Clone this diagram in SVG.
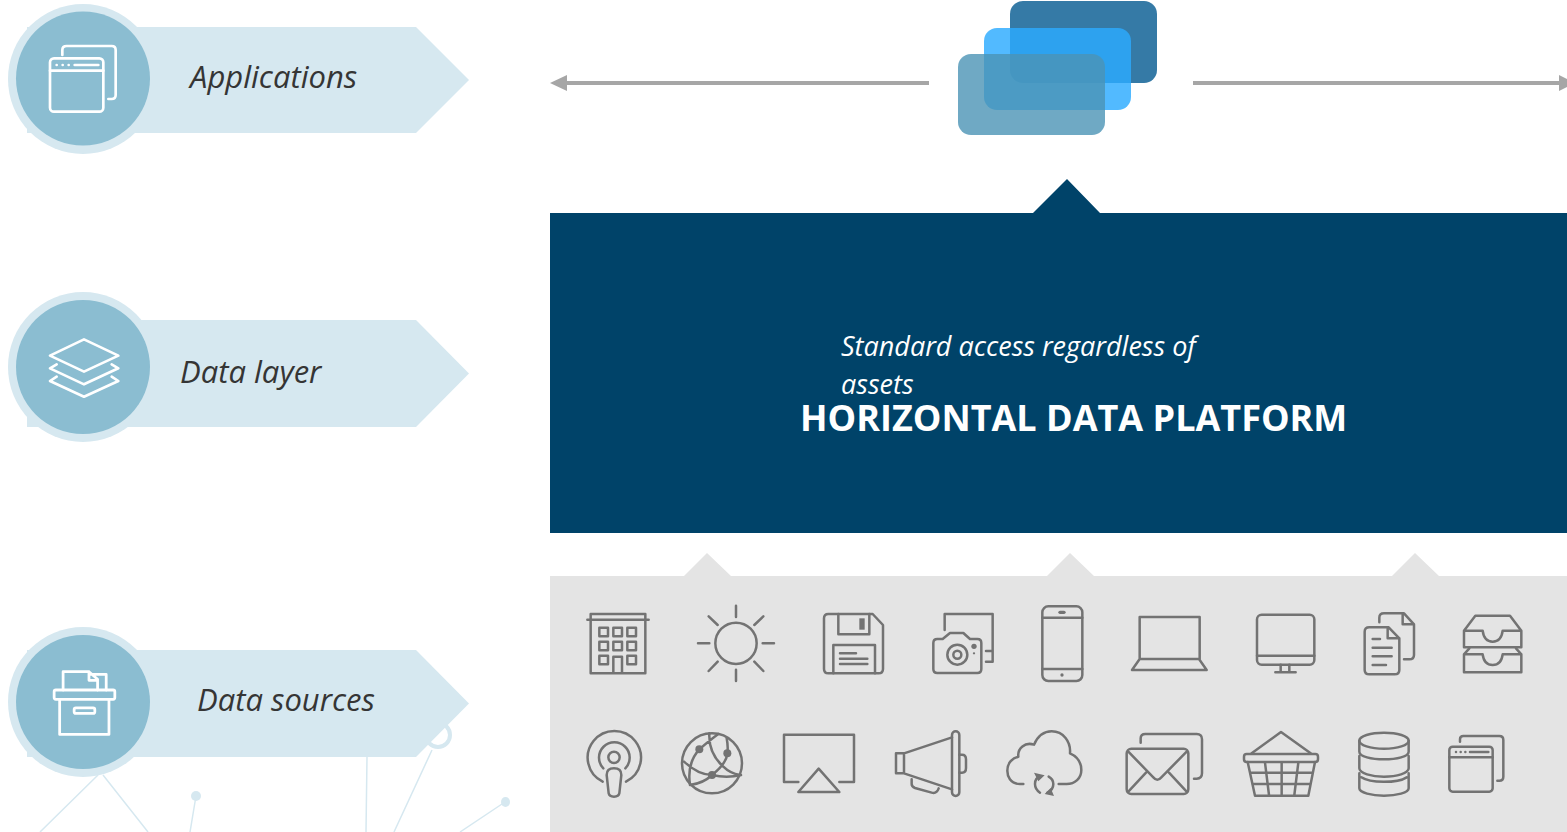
<svg xmlns="http://www.w3.org/2000/svg" width="1567" height="832" viewBox="0 0 1567 832">
<style>
.lab{font-family:"Open Sans","Liberation Sans",sans-serif;font-style:italic;font-size:31px;fill:#353535}
.sub{font-family:"Open Sans","Liberation Sans",sans-serif;font-style:italic;font-size:27px;fill:#fff}
.ttl{font-family:"Open Sans","Liberation Sans",sans-serif;font-weight:700;font-size:36px;fill:#fff}
.arrow{fill:#d6e8f0}
.halo{fill:#d6e8f0}
.disc{fill:#8bbdd1}
.wi{fill:none;stroke:#fff;stroke-width:8;stroke-linejoin:round;stroke-linecap:round}
.ic{fill:none;stroke:#737373;stroke-width:7.5;stroke-linejoin:round;stroke-linecap:round}
.ic .f{fill:#737373;stroke:none}
.bg{fill:none;stroke:#d6e8f0;stroke-width:1.5}
.conn{stroke:#a6a6a6;stroke-width:4;fill:none}
.head{fill:#a6a6a6}
</style>
<g id="background-network">
<path class="bg" d="M98 775L40 832M103 775L148 832M196 796L190 832M367 757L366 832M432 750L394 832M505 802L460 832"/>
<circle cx="196" cy="796" r="5" fill="#d6e8f0"/>
<ellipse cx="505.500" cy="802" rx="4.500" ry="5" fill="#d6e8f0"/>
<circle cx="438" cy="735" r="12" fill="none" stroke="#d6e8f0" stroke-width="4"/>
</g>
<g id="connectors">
<path class="conn" d="M929 83H564"/>
<path class="head" d="M550 83L567 75V91Z"/>
<path class="conn" d="M1193 83H1565"/>
<path class="head" d="M1575 83L1559 75V91Z"/>
</g>
<g id="applications">
<path class="arrow" d="M27 27H416L469 80L416 133H27Z"/>
<circle class="halo" cx="83" cy="79" r="75"/>
<circle class="disc" cx="83" cy="78.500" r="67"/>
<g transform="scale(.33333)" class="wi">
<path d="M187 165V150Q187 138 200 138H335Q347 138 347 150V285Q347 297 335 297H325"/>
<rect x="150" y="175" width="160" height="160" rx="12"/>
<path d="M150 212H310M224 195H295M170 195h.1M188 195h.1M206 195h.1"/>
</g>
<text class="lab" x="190" y="88">Applications</text>
</g>
<g id="data-layer">
<path class="arrow" d="M27 320H416L469 373.500L416 427H27Z"/>
<circle class="halo" cx="83" cy="367" r="75"/>
<circle class="disc" cx="83" cy="367" r="67"/>
<g transform="translate(0 285) scale(.33333)" class="wi">
<path d="M252 163L355 212L252 260L150 212Z"/>
<path d="M170 238L150 250L252 298L355 250L335 238"/>
<path d="M170 275L150 288L252 335L355 288L335 275"/>
</g>
<text class="lab" x="180" y="383">Data layer</text>
</g>
<g id="data-sources">
<path class="arrow" d="M27 650H416L469 703.500L416 757H27Z"/>
<circle class="halo" cx="83" cy="702" r="75"/>
<circle class="disc" cx="83" cy="702" r="67"/>
<g transform="translate(0 620) scale(.34483)" class="wi">
<rect x="157" y="203" width="176" height="27" rx="5"/>
<path d="M173 230V332H316V230"/>
<rect x="215" y="255" width="60" height="16" rx="5"/>
<path d="M183 203V150H258L283 172V203M258 150V175H283M262 158H308V203"/>
</g>
<text class="lab" x="197" y="711">Data sources</text>
</g>
<g id="stacked-cards">
<rect x="1010" y="1" width="147" height="82" rx="13" fill="#357aa6"/>
<rect x="984" y="28" width="147" height="82" rx="13" fill="#2cabff" fill-opacity=".82"/>
<rect x="958" y="54" width="147" height="81" rx="13" fill="#4b93b5" fill-opacity=".8"/>
</g>
<g id="horizontal-data-platform">
<path fill="#004369" d="M550 213H1033L1067 179L1100 213H1567V533H550Z"/>
<text class="sub" x="841" y="356">Standard access regardless of</text>
<text class="sub" x="841" y="394">assets</text>
<text class="ttl" x="800" y="431">HORIZONTAL DATA PLATFORM</text>
</g>
<g id="source-panel">
<path fill="#e4e4e4" d="M550 576H684L707 553L731 576H1047L1070 553L1094 576H1392L1415 553L1439 576H1567V832H550Z"/>
</g>
<g id="icon-building" class="ic" transform="translate(570 595) scale(.33333)">
<path d="M62 57H226V235H62ZM52 74H236M130 235V185H156V235"/>
<rect x="88" y="98" width="26" height="26"/><rect x="130" y="98" width="26" height="26"/><rect x="172" y="98" width="26" height="26"/>
<rect x="88" y="140" width="26" height="26"/><rect x="130" y="140" width="26" height="26"/><rect x="172" y="140" width="26" height="26"/>
<rect x="88" y="182" width="26" height="26"/><rect x="172" y="182" width="26" height="26"/>
</g>
<g id="icon-sun" class="ic" transform="translate(570 595) scale(.33333)">
<circle cx="498" cy="145" r="62"/>
<path d="M498 32V66M498 224V258M384 145H418M578 145H612M416 64L443 90M580 64L553 90M416 228L443 200M580 228L553 200"/>
</g>
<g id="icon-floppy" class="ic" transform="translate(570 595) scale(.33333)">
<path d="M775 57H908L939 90V222Q939 235 926 235H775Q762 235 762 222V70Q762 57 775 57Z"/>
<path d="M805 57V118H898V57M790 235V150H915V235M810 175H858M810 191H892M810 207H892"/>
<rect class="f" x="868" y="70" width="16" height="34"/>
</g>
<g id="icon-camera" class="ic" transform="translate(570 595) scale(.33333)">
<path d="M1124 105V57H1268V200H1248M1248 168H1268"/>
<path d="M1102 132H1118L1140 114H1180L1200 132H1222Q1234 132 1234 144V222Q1234 234 1222 234H1102Q1090 234 1090 222V144Q1090 132 1102 132Z"/>
<circle cx="1162" cy="179" r="30"/><circle cx="1162" cy="179" r="12"/>
<circle class="f" cx="1212" cy="154" r="8"/><circle class="f" cx="1212" cy="175" r="3.500"/>
</g>
<g id="icon-phone" class="ic" transform="translate(1030 595) scale(.33333)">
<rect x="37" y="34" width="120" height="224" rx="18"/>
<path d="M37 68H157M37 222H157"/>
<rect class="f" x="85" y="47" width="22" height="10" rx="5"/>
<circle class="f" cx="96" cy="240" r="5"/>
</g>
<g id="icon-laptop" class="ic" transform="translate(1030 595) scale(.33333)">
<path d="M329 192V66H509V192ZM329 192L306 225H530L507 192"/>
</g>
<g id="icon-monitor" class="ic" transform="translate(1030 595) scale(.33333)">
<rect x="681" y="59" width="172" height="150" rx="14"/>
<path d="M681 182H853M752 209V232M778 209V232M736 232H797"/>
</g>
<g id="icon-documents" class="ic" transform="translate(1030 595) scale(.33333)">
<path d="M1048 82V68Q1048 55 1062 55H1122L1152 88V180Q1152 193 1138 193H1122M1118 55V88H1152"/>
<path d="M1018 97H1076L1108 130V225Q1108 238 1094 238H1018Q1004 238 1004 225V110Q1004 97 1018 97ZM1073 97V130H1108M1028 132H1050M1028 158H1085M1028 184H1085M1028 210H1068"/>
</g>
<g id="icon-trays" class="ic" transform="translate(1030 595) scale(.33333)">
<path d="M1302 107L1336 62H1440L1474 107V157H1302ZM1302 107H1358Q1362 140 1388 140Q1414 140 1418 107H1474"/>
<path d="M1318 160L1302 178V232H1474V178L1458 160M1302 178H1358Q1362 210 1388 210Q1414 210 1418 178H1474"/>
</g>
<g id="icon-podcast" class="ic" transform="translate(570 720) scale(.33333)">
<path d="M98 185A80 80 0 1 1 168 185M100 145A46 46 0 1 1 166 145"/>
<circle cx="132" cy="112" r="17"/>
<path d="M110 165Q110 145 132 145Q154 145 154 165L148 220Q146 230 132 230Q118 230 116 220Z"/>
</g>
<g id="icon-globe" class="ic" transform="translate(570 720) scale(.33333)">
<circle cx="426" cy="130" r="90"/>
<path d="M342 125Q385 165 426 165Q470 175 513 165M360 195Q350 130 388 88Q420 60 445 42M360 195Q400 190 426 165Q470 130 472 100Q475 80 470 55M418 40Q415 100 460 140Q480 160 510 165"/>
<circle class="f" cx="388" cy="88" r="12"/><circle class="f" cx="472" cy="100" r="12"/><circle class="f" cx="426" cy="165" r="12"/>
</g>
<g id="icon-airplay" class="ic" transform="translate(570 720) scale(.33333)">
<path d="M685 186H642V44H852V186H808M746 146L808 216H685Z"/>
</g>
<g id="icon-megaphone" class="ic" transform="translate(570 720) scale(.33333)">
<rect x="1146" y="34" width="22" height="194" rx="11"/>
<path d="M1146 52L1002 100H978V160H1002L1146 208M1002 100V160M1168 104H1176Q1188 104 1188 118V144Q1188 158 1176 158H1168M1025 178V192Q1025 200 1035 204L1085 218Q1100 222 1106 205"/>
</g>
<g id="icon-cloud" class="ic" transform="translate(570 720) scale(.33333)">
<path d="M1360 192H1350C1320 192 1312 168 1312 152C1312 128 1328 114 1345 110C1342 85 1365 65 1392 74C1405 45 1425 34 1445 34C1480 34 1503 65 1500 100C1522 110 1534 128 1534 150C1534 175 1515 192 1490 192H1466"/>
<path d="M1412 170Q1395 172 1395 192Q1395 208 1410 218M1432 218Q1450 210 1450 192Q1450 178 1436 170"/>
<path class="f" d="M1392 158L1424 166L1405 184ZM1452 228L1424 222L1442 204Z"/>
</g>
<g id="icon-mail" class="ic" transform="translate(1000 720) scale(.33333)">
<path d="M422 68V55Q422 42 436 42H590Q606 42 606 58V160Q606 176 590 176H582"/>
<rect x="380" y="86" width="185" height="136" rx="14"/>
<path d="M385 95L460 172Q472 186 484 172L560 95M385 215L438 158M560 215L507 158"/>
</g>
<g id="icon-basket" class="ic" transform="translate(1000 720) scale(.33333)">
<path d="M755 100L843 36L932 100"/>
<rect x="732" y="102" width="222" height="24" rx="8"/>
<path d="M743 126L765 227H925L945 126M750 158H938M757 192H930M795 128L807 225M845 128V225M895 128L883 225"/>
</g>
<g id="icon-database" class="ic" transform="translate(1000 720) scale(.33333)">
<ellipse cx="1152" cy="62" rx="74" ry="24"/>
<path d="M1078 62V95C1078 110 1115 118 1152 118C1190 118 1226 110 1226 95V62"/>
<path d="M1078 108V145C1078 160 1115 170 1152 170C1190 170 1226 160 1226 145V108"/>
<path d="M1084 172C1110 190 1192 190 1220 172M1078 160V205C1078 218 1115 227 1152 227C1190 227 1226 218 1226 205V160"/>
</g>
<g id="icon-window" class="ic" transform="translate(1000 720) scale(.33333)">
<path d="M1380 65V58Q1380 48 1390 48H1498Q1510 48 1510 60V170Q1510 182 1498 182H1492"/>
<rect x="1348" y="80" width="130" height="135" rx="10"/>
<path d="M1348 112H1478M1410 96H1465M1368 96h.1M1382 96h.1M1396 96h.1"/>
</g>
</svg>
